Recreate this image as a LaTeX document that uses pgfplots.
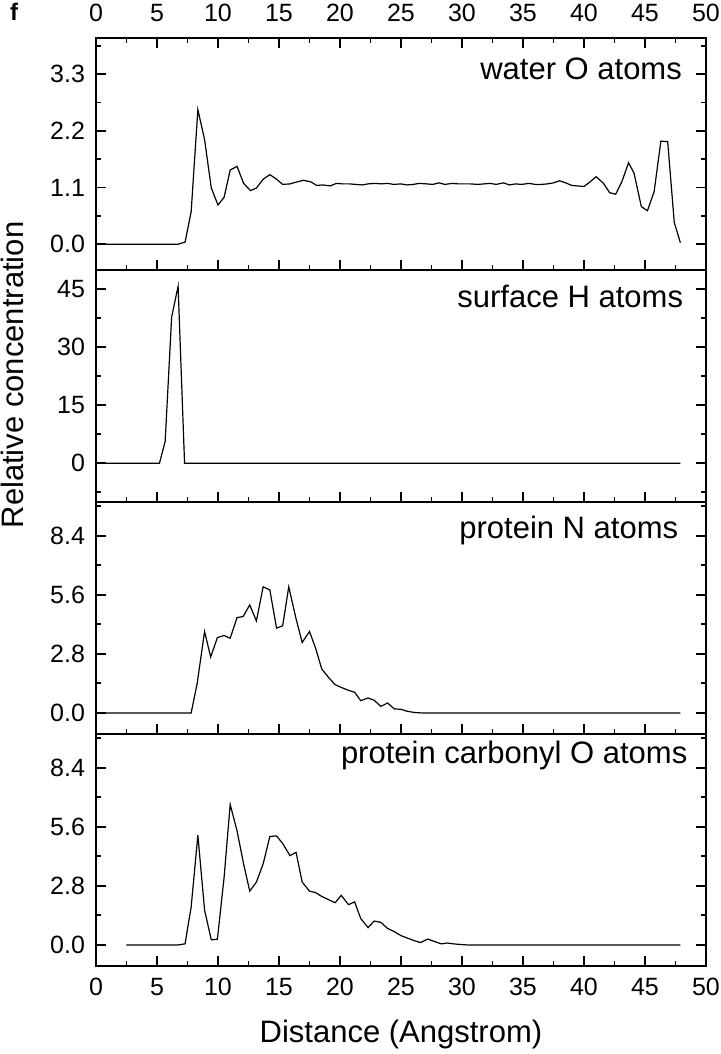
\documentclass[border=0pt]{standalone}
\usepackage{fontspec}
\setmainfont{Liberation Sans}
\usepackage{pgfplots}
\pgfplotsset{compat=1.18}

\pgfplotsset{
  panel/.style={
    scale only axis, width=305pt, height=116pt,
    xmin=0, xmax=50,
    xtick={0,5,...,50},
    minor xtick={2.5,7.5,...,47.5},
    tick align=inside,
    major tick length=5pt, minor tick length=2.5pt,
    axis line style={line width=1.1pt},
    every tick/.style={black, line width=0.9pt},
    ytick pos=both, yticklabel pos=left,
    tick label style={font=\fontsize{12.5}{15}\selectfont},
    yticklabel style={xshift=-2pt},
    /pgf/number format/assume math mode=true,
    clip=false,
  },
  curve/.style={black, line width=0.6pt, mark=none},
}

\begin{document}
\begin{tikzpicture}
\useasboundingbox (-48pt,19pt) rectangle (312.5pt,-508pt);

% water O atoms
\begin{axis}[panel, at={(0,0)}, anchor=north west,
  ymin=-0.5, ymax=4.0,
  ytick={0,1.1,2.2,3.3}, yticklabels={0.0,1.1,2.2,3.3},
  minor ytick={0.55,1.65,2.75,3.85},
  xtick pos=both, xticklabel pos=right,
  xticklabel style={yshift=4.5pt}]
\addplot[curve] coordinates {
 (0,0) (6.73,0) (7.3,0.04) (7.8,0.63) (8.35,2.61) (8.9,2.03) (9.45,1.09)
 (10.0,0.76) (10.5,0.91) (11.0,1.44) (11.56,1.51) (12.1,1.18) (12.66,1.04)
 (13.15,1.09) (13.7,1.26) (14.25,1.35) (14.8,1.26) (15.3,1.16) (15.9,1.17)
 (16.5,1.21) (17.0,1.24) (17.6,1.21) (18.1,1.14) (18.6,1.15) (19.2,1.13)
 (19.7,1.18) (20.2,1.17) (20.8,1.17) (21.3,1.16) (21.8,1.15) (22.3,1.17)
 (22.9,1.18) (23.4,1.17) (23.9,1.18) (24.4,1.16) (25.0,1.17) (25.5,1.15)
 (26.0,1.16) (26.5,1.18) (27.1,1.17) (27.6,1.16) (28.1,1.19) (28.6,1.16)
 (29.2,1.18) (29.7,1.17) (30.2,1.17) (30.7,1.17) (31.3,1.16) (31.8,1.17)
 (32.3,1.18) (32.8,1.16) (33.4,1.19) (33.9,1.15) (34.4,1.17) (34.9,1.16)
 (35.5,1.18) (36.0,1.16) (36.5,1.16) (37.0,1.17) (37.5,1.19) (38.0,1.23)
 (38.5,1.19) (39.0,1.14) (39.5,1.13) (40.0,1.12) (40.5,1.21) (41.0,1.31)
 (41.6,1.18) (42.1,1.0) (42.6,0.97) (43.1,1.21) (43.65,1.58) (44.1,1.38)
 (44.7,0.73) (45.2,0.65) (45.75,1.02) (46.3,2.0) (46.86,1.99) (47.4,0.42)
 (47.9,0.03)
};
\node[anchor=base east, font=\fontsize{15.5}{18}\selectfont] at (axis cs:48.6,3.2) {water O atoms};
\end{axis}

% surface H atoms
\begin{axis}[panel, at={(0,-116pt)}, anchor=north west,
  ymin=-10, ymax=50,
  ytick={0,15,30,45}, yticklabels={0,15,30,45},
  minor ytick={-7.5,7.5,22.5,37.5},
  xtick pos=left, xticklabels={}]
\addplot[curve] coordinates {
 (0,0) (5.2,0) (5.67,5.7) (6.2,37.8) (6.73,45.8) (7.26,0) (47.9,0)
};
\node[anchor=base east, font=\fontsize{15.5}{18}\selectfont] at (axis cs:48.7,40.3) {surface H atoms};
\end{axis}

% protein N atoms
\begin{axis}[panel, at={(0,-232pt)}, anchor=north west,
  ymin=-1, ymax=10,
  ytick={0,2.8,5.6,8.4}, yticklabels={0.0,2.8,5.6,8.4},
  minor ytick={1.4,4.2,7.0,9.8},
  xtick pos=left, xticklabels={}]
\addplot[curve] coordinates {
 (0,0) (7.8,0) (8.3,1.42) (8.9,3.86) (9.4,2.65) (9.95,3.57) (10.5,3.67)
 (11.0,3.54) (11.56,4.52) (12.06,4.57) (12.6,5.12) (13.15,4.36) (13.7,5.98)
 (14.25,5.83) (14.8,4.02) (15.3,4.13) (15.8,5.98) (16.4,4.46) (16.9,3.34)
 (17.5,3.86) (18.0,3.07) (18.5,2.09) (19.05,1.69) (19.6,1.34) (20.1,1.21)
 (20.7,1.07) (21.2,0.98) (21.7,0.58) (22.3,0.71) (22.8,0.6) (23.35,0.31)
 (23.9,0.47) (24.45,0.19) (25.0,0.17) (25.5,0.08) (26.1,0.02) (26.7,0)
 (47.9,0)
};
\node[anchor=base east, font=\fontsize{15.5}{18}\selectfont] at (axis cs:48.3,8.25) {protein N atoms};
\end{axis}

% protein carbonyl O atoms
\begin{axis}[panel, at={(0,-348pt)}, anchor=north west,
  ymin=-1, ymax=10,
  ytick={0,2.8,5.6,8.4}, yticklabels={0.0,2.8,5.6,8.4},
  minor ytick={1.4,4.2,7.0,9.8},
  xtick pos=left,
  xticklabel style={yshift=-2.5pt},
  xlabel={Distance (Angstrom)},
  xlabel style={font=\fontsize{15.5}{18}\selectfont, at={(axis description cs:0.5,0)}, anchor=base, yshift=-38pt}]
\addplot[curve] coordinates {
 (2.5,0) (6.73,0) (7.3,0.05) (7.8,1.8) (8.35,5.2) (8.9,1.65) (9.45,0.24)
 (9.95,0.27) (10.5,3.2) (11.0,6.66) (11.56,5.41) (12.1,3.84) (12.6,2.55)
 (13.15,2.98) (13.7,3.84) (14.25,5.14) (14.8,5.17) (15.3,4.81) (15.9,4.23)
 (16.4,4.39) (16.9,2.98) (17.5,2.55) (18.0,2.48) (18.5,2.3) (19.05,2.15)
 (19.6,2.0) (20.1,2.35) (20.7,1.91) (21.2,2.04) (21.7,1.25) (22.3,0.82)
 (22.8,1.13) (23.35,1.07) (23.9,0.78) (24.45,0.63) (25.0,0.44) (25.5,0.33)
 (26.1,0.2) (26.6,0.11) (27.2,0.28) (27.7,0.17) (28.3,0.05) (28.8,0.09)
 (29.3,0.05) (29.9,0.02) (30.4,0) (47.9,0)
};
\node[anchor=base east, font=\fontsize{15.5}{18}\selectfont] at (axis cs:49.05,8.6) {protein carbonyl O atoms};
\end{axis}

\node[font=\fontsize{12}{14}\selectfont\bfseries] at (-41pt,13pt) {f};
\node[rotate=90, font=\fontsize{15.5}{18}\selectfont] at (-42pt,-168.5pt) {Relative concentration};
\end{tikzpicture}
\end{document}
